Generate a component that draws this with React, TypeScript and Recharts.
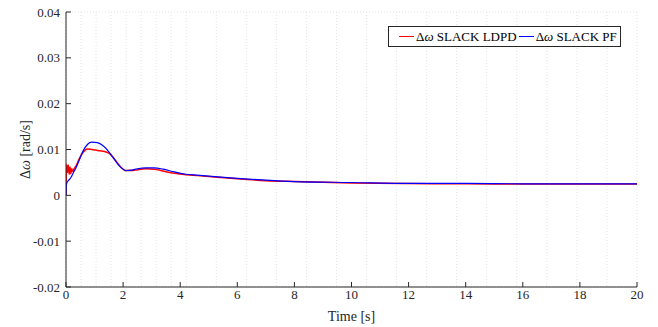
import { LineChart, Line, XAxis, YAxis, CartesianGrid } from "recharts";

const times = [
  0, 0.02, 0.05, 0.08, 0.11, 0.14, 0.17, 0.2, 0.24, 0.28, 0.35, 0.45, 0.6, 0.75, 0.9, 1.1, 1.3, 1.5, 1.7, 1.9,
  2.1, 2.3, 2.5, 2.8, 3.1, 3.4, 3.8, 4.2, 4.6, 5, 6, 7, 8, 10, 12, 14, 16, 18, 20,
];
const slackLdpd = [
  0, 0.0068, 0.005, 0.0066, 0.0046, 0.0062, 0.0047, 0.0058, 0.0052, 0.0058, 0.0064, 0.0078, 0.0094, 0.0101,
  0.01, 0.0098, 0.0096, 0.0092, 0.0079, 0.0063, 0.0054, 0.0054, 0.0056, 0.0058, 0.0057, 0.0053, 0.0048,
  0.0045, 0.0043, 0.0041, 0.0036, 0.0032, 0.003, 0.0027, 0.0026, 0.0025, 0.0025, 0.0025, 0.0025,
];
const slackPf = [
  0, 0.0025, 0.003, 0.0032, 0.0034, 0.0036, 0.0039, 0.0042, 0.0047, 0.0052, 0.006, 0.0075, 0.0097, 0.0111,
  0.0116, 0.0115, 0.0108, 0.0095, 0.0078, 0.0062, 0.0054, 0.0055, 0.0058, 0.006, 0.006, 0.0057, 0.0051,
  0.0046, 0.0044, 0.0042, 0.0037, 0.0033, 0.003, 0.0028, 0.0026, 0.0026, 0.0025, 0.0025, 0.0025,
];
const xTicks = [0, 2, 4, 6, 8, 10, 12, 14, 16, 18, 20];
const yTicks = [-0.02, -0.01, 0, 0.01, 0.02, 0.03, 0.04];

const data = times.map((t, i) => ({ t, ldpd: slackLdpd[i], pf: slackPf[i] }));

const font = "'Liberation Serif', 'Times New Roman', serif";
const ink = "#262626";
const txt = { fontFamily: font, fontSize: 13, fill: ink };

const fmt = (v: number) => String(Number(v.toFixed(3)));

function XTick(props: any) {
  const { x, y, payload } = props;
  return (
    <text x={x} y={y + 9} textAnchor="middle" style={txt}>
      {fmt(payload.value)}
    </text>
  );
}

function YTick(props: any) {
  const { x, y, payload } = props;
  return (
    <text x={x} y={y + 4.5} textAnchor="end" style={txt}>
      {fmt(payload.value)}
    </text>
  );
}

function LegendBox() {
  const item = (color: string, label: string) => (
    <span style={{ display: "inline-flex", alignItems: "center", marginRight: 2 }}>
      <span style={{ display: "inline-block", width: 15, height: 0, borderTop: `1.5px solid ${color}`, marginRight: 2 }} />
      <span>
        Δ<i>ω</i> {label}
      </span>
    </span>
  );
  return (
    <div
      style={{
        position: "absolute",
        left: 388,
        top: 26,
        width: 233,
        border: "1px solid #262626",
        background: "#fff",
        fontFamily: font,
        fontSize: 13,
        color: "#000",
        padding: "0 4px 0 10px",
        height: 21,
        boxSizing: "border-box",
        display: "flex",
        alignItems: "center",
        whiteSpace: "nowrap",
      }}
    >
      {item("#ff0000", "SLACK LDPD")}
      {item("#0000ff", "SLACK PF")}
    </div>
  );
}

export default function App() {
  return (
    <div style={{ position: "absolute", left: 0, top: 0, width: 658, height: 327, background: "#fff", fontFamily: font }}>
      <LineChart width={658} height={327} data={data} margin={{ top: 12, right: 21, bottom: 0, left: 0 }}>
        <CartesianGrid stroke="#e3e3e3" strokeDasharray="1 2" />
        <XAxis
          xAxisId="b"
          dataKey="t"
          type="number"
          domain={[0, 20]}
          ticks={xTicks}
          height={40}
          tick={<XTick />}
          tickSize={-5}
          tickMargin={8}
          stroke={ink}
          allowDataOverflow
        />
        <XAxis
          xAxisId="t"
          orientation="top"
          dataKey="t"
          type="number"
          domain={[0, 20]}
          ticks={xTicks}
          height={0}
          tick={false}
          tickSize={-5}
          stroke="#a0a0a0"
        />
        <YAxis
          yAxisId="l"
          type="number"
          domain={[-0.02, 0.04]}
          ticks={yTicks}
          width={66}
          tick={<YTick />}
          tickSize={-5}
          tickMargin={11}
          stroke={ink}
          allowDataOverflow
          label={{
            content: () => (
              <text
                x={30}
                y={149.5}
                transform="rotate(-90 30 149.5)"
                textAnchor="middle"
                style={{ ...txt, fontSize: 14 }}
              >
                Δ<tspan fontStyle="italic">ω</tspan> [rad/s]
              </text>
            ),
          }}
        />
        <YAxis
          yAxisId="r"
          orientation="right"
          type="number"
          domain={[-0.02, 0.04]}
          ticks={yTicks}
          width={0}
          tick={false}
          tickSize={-5}
          stroke="#a0a0a0"
        />
        <Line
          xAxisId="b"
          yAxisId="l"
          dataKey="ldpd"
          stroke="#ff0000"
          strokeWidth={1.5}
          dot={false}
          type="monotone"
          isAnimationActive={false}
        />
        <Line
          xAxisId="b"
          yAxisId="l"
          dataKey="pf"
          stroke="#0000ff"
          strokeWidth={1.2}
          dot={false}
          type="monotone"
          isAnimationActive={false}
        />
      </LineChart>
      <div
        style={{
          position: "absolute",
          left: 0,
          width: 658,
          top: 309,
          textAlign: "center",
          paddingLeft: 45,
          boxSizing: "border-box",
          fontFamily: font,
          fontSize: 14,
          color: ink,
          lineHeight: "16px",
        }}
      >
        Time [s]
      </div>
      <LegendBox />
    </div>
  );
}
